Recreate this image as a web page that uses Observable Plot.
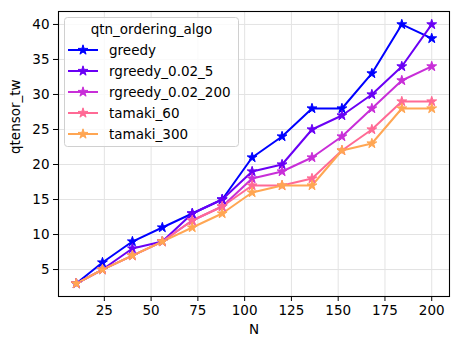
<!DOCTYPE html>
<html>
<head>
<meta charset="utf-8">
<script src="https://cdn.jsdelivr.net/npm/d3@7"></script>
<script src="https://cdn.jsdelivr.net/npm/@observablehq/plot@0.6"></script>
<style>
  html, body { margin: 0; padding: 0; background: white; }
  #chart { position: relative; width: 459px; height: 349px; }
</style>
</head>
<body>
<div id="chart"></div>
<script>
const N = [10, 24, 40, 56, 72, 88, 104, 120, 136, 152, 168, 184, 200];
const seriesNames = ["greedy", "rgreedy_0.02_5", "rgreedy_0.02_200", "tamaki_60", "tamaki_300"];
const greedy       = [3, 6, 9, 11, 13, 15, 21, 24, 28, 28, 33, 40, 38];
const rgreedy_5    = [3, 5, 8, 9, 13, 15, 19, 20, 25, 27, 30, 34, 40];
const rgreedy_200  = [3, 5, 7, 9, 12, 14, 18, 19, 21, 24, 28, 32, 34];
const tamaki_60    = [3, 5, 7, 9, 12, 14, 17, 17, 18, 22, 25, 29, 29];
const tamaki_300   = [3, 5, 7, 9, 11, 13, 16, 17, 17, 22, 23, 28, 28];
const colors = ["#0000ff", "#6a00f5", "#c82ed8", "#ff6a95", "#ffa653"];
const xTicks = [25, 50, 75, 100, 125, 150, 175, 200];
const yTicks = [5, 10, 15, 20, 25, 30, 35, 40];
const legendTitle = "qtn_ordering_algo";
const xLabel = "N";
const yLabel = "qtensor_tw";

const allSeries = [greedy, rgreedy_5, rgreedy_200, tamaki_60, tamaki_300];
const data = allSeries.flatMap((vals, si) =>
  vals.map((v, i) => ({algo: seriesNames[si], N: N[i], tw: v})));

const W = 459, H = 349;
const mL = 58, mR = 10, mT = 11, mB = 53;

const plot = Plot.plot({
  width: W, height: H,
  marginLeft: mL, marginRight: mR, marginTop: mT, marginBottom: mB,
  style: {fontFamily: "DejaVu Sans", fontSize: "13.5px", color: "black", background: "white", overflow: "visible"},
  x: {domain: [0.5, 209.5]},
  y: {domain: [1.15, 41.85]},
  color: {domain: seriesNames, range: colors},
  marks: [
    Plot.gridX(xTicks, {stroke: "#e3e3e3", strokeOpacity: 1, strokeWidth: 1}),
    Plot.gridY(yTicks, {stroke: "#e3e3e3", strokeOpacity: 1, strokeWidth: 1}),
    Plot.axisX(xTicks, {tickSize: 5, tickPadding: 4, label: null, fontSize: 13.5, tickFormat: d => String(d)}),
    Plot.axisY(yTicks, {tickSize: 5, tickPadding: 4, label: null, fontSize: 13.5, tickFormat: d => String(d)}),
    ...seriesNames.map((name, si) => Plot.line(data.filter(d => d.algo === name),
      {x: "N", y: "tw", stroke: colors[si], strokeWidth: 2})),
    ...seriesNames.map((name, si) => Plot.dot(data.filter(d => d.algo === name),
      {x: "N", y: "tw", symbol: "star", r: 3.1, fill: colors[si], stroke: colors[si], strokeWidth: 1})),
    Plot.frame({stroke: "black", strokeWidth: 1.1}),
    Plot.text([xLabel], {frameAnchor: "bottom", dy: 37, text: d => d, fontSize: 13.5, fill: "black"}),
    Plot.text([yLabel], {frameAnchor: "left", dx: -43, rotate: -90, text: d => d, fontSize: 13.5, fill: "black"})
  ]
});

document.getElementById("chart").appendChild(plot);

// Legend drawn into the SVG
const svg = d3.select(plot);
const lg = svg.append("g").attr("font-family", "DejaVu Sans").attr("font-size", "13.5px").attr("text-anchor", "start");
const lx = 64, ly = 17, lw = 174, lh = 129;
lg.append("rect").attr("x", lx + 0.5).attr("y", ly + 0.5).attr("width", lw).attr("height", lh)
  .attr("rx", 3).attr("fill", "white").attr("fill-opacity", 0.8).attr("stroke", "#d0d0d0").attr("stroke-width", 1);
lg.append("text").attr("x", lx + lw / 2 + 0.5).attr("y", ly + 12).attr("dy", "0.35em")
  .attr("text-anchor", "middle").attr("fill", "black").text(legendTitle);
const star = d3.symbol(d3.symbolStar, Math.PI * 3.1 * 3.1)();
seriesNames.forEach((name, i) => {
  const cy = ly + 33 + i * 21;
  lg.append("line").attr("x1", lx + 4).attr("x2", lx + 34).attr("y1", cy).attr("y2", cy)
    .attr("stroke", colors[i]).attr("stroke-width", 2);
  lg.append("path").attr("d", star).attr("transform", `translate(${lx + 19},${cy})`)
    .attr("fill", colors[i]).attr("stroke", colors[i]).attr("stroke-width", 1);
  lg.append("text").attr("x", lx + 45).attr("y", cy).attr("dy", "0.35em")
    .attr("text-anchor", "start").attr("fill", "black").text(name);
});
</script>
</body>
</html>
